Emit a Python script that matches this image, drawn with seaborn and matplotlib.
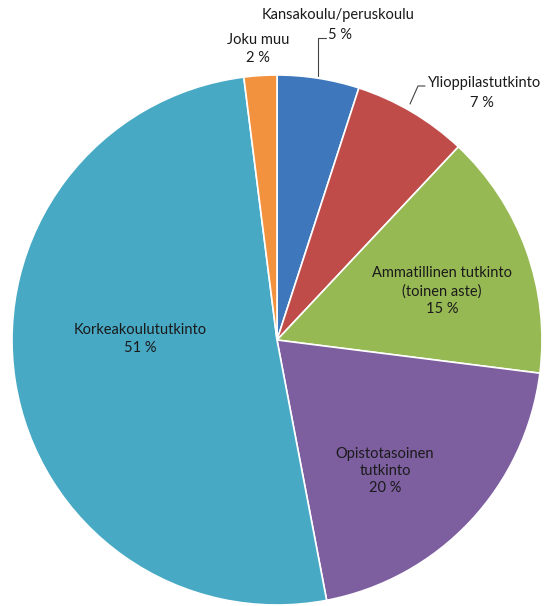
import matplotlib
matplotlib.use("Agg")
import matplotlib.pyplot as plt
import seaborn as sns

# education level shares (%), clockwise from the top
categories = ["Kansakoulu/peruskoulu", "Ylioppilastutkinto",
              "Ammatillinen tutkinto\n(toinen aste)", "Opistotasoinen\ntutkinto",
              "Korkeakoulututkinto", "Joku muu"]
shares = [5, 7, 15, 20, 51, 2]
slice_colors = ["#3f77bd", "#bf4c49", "#97b954", "#7d5fa0", "#47a9c4", "#f2923f"]

sns.set_theme(style="white")
plt.rcParams["font.family"] = ["Lato", "DejaVu Sans"]

W, H = 547, 606
fig = plt.figure(figsize=(W / 100, H / 100), dpi=100)
ax = fig.add_axes([0, 0, 1, 1])

cx, cy, R = 277, H - 340, 265
ax.pie(shares, colors=sns.color_palette(slice_colors), startangle=90,
       counterclock=False, center=(cx, cy), radius=R,
       wedgeprops=dict(edgecolor="white", linewidth=1.2), frame=True)
ax.set_xlim(0, W)
ax.set_ylim(0, H)
ax.axis("off")

fs = 10.5
txt = dict(ha="center", va="center", fontsize=fs, color="#1a1a1a", linespacing=1.3)
lead = dict(color="#444444", lw=0.8)

# outside labels (pixel positions, top-left origin)
ax.text(338, H - 15, categories[0], **txt)
ax.text(340, H - 35, f"{shares[0]} %", **txt)
ax.plot([318, 318, 326], [H - 76, H - 38, H - 38], **lead)

ax.text(485, H - 83, categories[1], **txt)
ax.text(482, H - 103, f"{shares[1]} %", **txt)
ax.plot([410, 418, 425], [H - 104, H - 86, H - 86], **lead)

ax.text(258, H - 40, categories[5], **txt)
ax.text(258, H - 58, f"{shares[5]} %", **txt)

# inside labels
ax.text(442, H - 291, f"{categories[2]}\n{shares[2]} %", **txt)
ax.text(385, H - 471, f"{categories[3]}\n{shares[3]} %", **txt)
ax.text(140, H - 339, f"{categories[4]}\n{shares[4]} %", **txt)

fig.savefig("out.png", dpi=100, facecolor="white")
